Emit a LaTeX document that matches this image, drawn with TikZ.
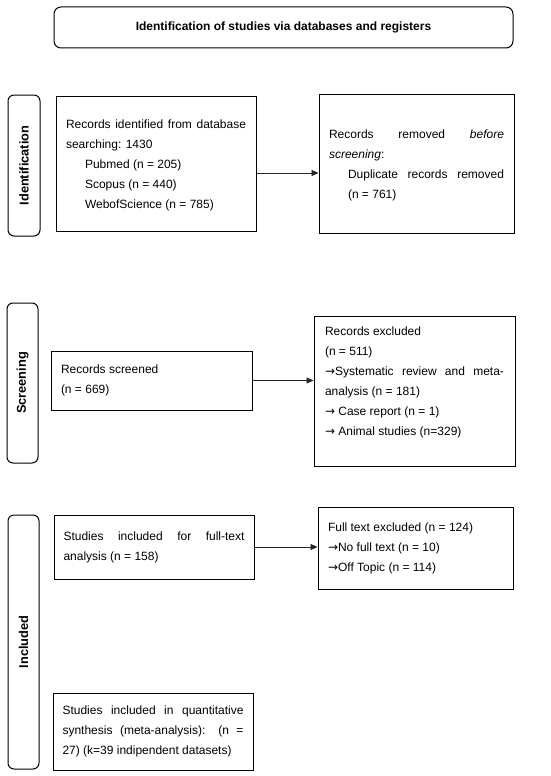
\documentclass[tikz,border=0pt]{standalone}
\usepackage{fontspec}
\setmainfont{Liberation Sans}
\newfontfamily\arrfont{DejaVu Sans}
\newcommand{\rarr}{{\arrfont →}}
\usetikzlibrary{arrows.meta}
\setlength{\parindent}{0pt}
\hyphenpenalty=10000 \exhyphenpenalty=10000 \tolerance=9999 \emergencystretch=20pt
\begin{document}
\begin{tikzpicture}[x=1pt,y=-1pt,
 box/.style={draw, line width=1pt, inner xsep=10pt, inner ysep=0pt, align=justify, font=\fontsize{12}{20}\selectfont},
 side/.style={draw, line width=1pt, rounded corners=6pt, rotate=90, inner sep=0pt, font=\fontsize{12.8}{15}\selectfont\bfseries},
 arr/.style={-{Triangle[length=7pt,width=6pt]}, line width=0.7pt, draw=black!85}]
\path[use as bounding box, fill=white] (0,0) rectangle (550,776);
\node[draw, line width=1pt, rounded corners=7pt, minimum width=459pt, minimum height=41pt, font=\fontsize{12}{14}\selectfont\bfseries] (title) at (283.5,27.5) {Identification of studies via databases and registers};
% side labels
\node[side, minimum width=141pt, minimum height=32pt] (sid) at (24,165.5) {Identification};
\node[side, minimum width=160pt, minimum height=31pt] (ssc) at (22.5,383) {Screening};
\node[side, minimum width=254pt, minimum height=31pt] (sin) at (23.5,642) {Included};
% boxes
\node[box, text width=180pt, minimum width=200pt, minimum height=135pt] (b1) at (156,163.5)
 {\rule{0pt}{12.5pt}Records identified from database searching: 1430\par
  \leftskip=19pt Pubmed (n = 205)\par Scopus (n = 440)\par WebofScience (n = 785)\par};
\node[box, text width=175pt, minimum width=195pt, minimum height=139pt] (b2) at (416.5,163.5)
 {\rule{0pt}{12.5pt}Records removed \emph{before\linebreak screening}:\par
  \leftskip=19pt Duplicate records removed\linebreak (n = 761)\par};
\node[box, text width=181pt, minimum width=201pt, minimum height=59pt] (b3) at (151.5,380.5)
 {Records screened\par (n = 669)};
\node[box, inner xsep=11pt, text width=179pt, minimum width=201pt, minimum height=150pt] (b4) at (414.5,391)
 {Records excluded\par (n = 511)\par \rarr Systematic review and meta-\linebreak analysis (n = 181)\par \rarr{} Case report (n = 1)\par \rarr{} Animal studies (n=329)\par\mbox{}};
\node[box, inner xsep=9.5pt, text width=181pt, minimum width=200pt, minimum height=64pt] (b5) at (154,547)
 {Studies included for full-text\linebreak analysis (n = 158)};
\node[box, text width=175pt, minimum width=195pt, minimum height=82pt] (b6) at (415.5,548)
 {Full text excluded (n = 124)\par \rarr No full text (n = 10)\par \rarr Off Topic (n = 114)};
\node[box, inner xsep=9.5pt, text width=181pt, minimum width=200pt, minimum height=77pt] (b7) at (153,731.5)
 {Studies included in quantitative\linebreak synthesis (meta-analysis): (n =\linebreak 27) (k=39 indipendent datasets)};
% arrows
\draw[arr] ([yshift=-9.5pt]b1.east) -- ([yshift=-9.5pt]b1.east -| b2.west);
\draw[arr] (b3.east) -- (b3.east -| b4.west);
\draw[arr] (b5.east) -- (b5.east -| b6.west);
\end{tikzpicture}
\end{document}
